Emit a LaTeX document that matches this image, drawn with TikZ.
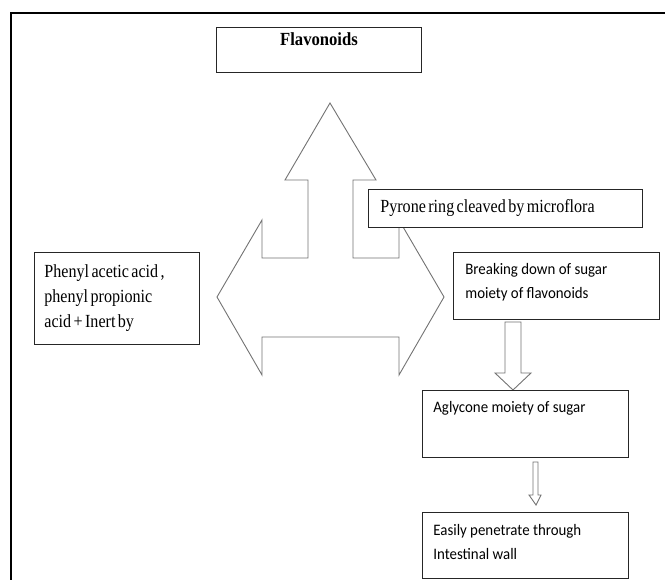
\documentclass[tikz,border=0pt]{standalone}
\usepackage{fontspec}
\newfontfamily\timesfont[FakeStretch=0.87,WordSpace=0.6]{Liberation Serif}
\newfontfamily\timesbold[FakeStretch=0.9]{Liberation Serif}
\newfontfamily\calfont[FakeStretch=0.93]{Carlito}

\tikzset{every picture/.style={line width=0.75pt}}
\tikzset{
  box/.style={draw=black!85, line width=1pt, fill=white, inner sep=0pt, anchor=north west},
  blockarrow/.style={draw=black!55, line width=0.9pt, fill=white},
  sertext/.style={inner sep=0pt, anchor=base west, align=left, font=\timesfont\fontsize{18.5}{25}\selectfont},
  caltext/.style={inner sep=0pt, anchor=base west, align=left, font=\calfont\fontsize{16}{24}\selectfont},
}

\begin{document}
\begin{tikzpicture}[x=1pt,y=1pt,yscale=-1,xscale=1]
	\useasboundingbox (0,0) rectangle (665,580);
	
	%Frame
	\draw [line width=2.3pt] (11,580) -- (11,13) -- (665,13) ;
	
	%Shape: Left-Right-Up Arrow
	\draw [blockarrow] (330,103) -- (376,180) -- (353,180) -- (353,258) -- (399,258) -- (399,220) -- (444,297) -- (399,375) -- (399,337) -- (262,337) -- (262,375) -- (217,297) -- (262,220) -- (262,258) -- (308,258) -- (308,180) -- (285,180) -- cycle ;
	
	%Shape: Down Arrow
	\draw [blockarrow] (505,322) -- (521,322) -- (521,373) -- (531,373) -- (513,390) -- (495,373) -- (505,373) -- cycle ;
	%Shape: Down Arrow
	\draw [blockarrow] (533,462) -- (538,462) -- (538,495) -- (541,495) -- (536,505) -- (529,495) -- (533,495) -- cycle ;
	
	%Boxes
	\node [box, minimum width=205, minimum height=45] (flav) at (216,27) {};
	\node [box, minimum width=274, minimum height=38] (pyr) at (368,189) {};
	\node [box, minimum width=165, minimum height=92] (phen) at (34,252) {};
	\node [box, minimum width=206, minimum height=67] (brk) at (453,252) {};
	\node [box, minimum width=206, minimum height=67] (agly) at (422,390) {};
	\node [box, minimum width=206, minimum height=66] (easy) at (422,512) {};
	
	% Text Node (base = last line)
	\node [sertext, anchor=base, font=\timesbold\bfseries\fontsize{18.5}{25}\selectfont] (flavtxt) at (319,46) {Flavonoids};
	% Text Node
	\node [sertext] (pyrtxt) at (380,213) {Pyrone ring cleaved by microflora};
	% Text Node
	\node [sertext] (phentxt) at (44,328) {Phenyl acetic acid ,\\ phenyl propionic\\ acid + Inert by};
	% Text Node
	\node [caltext] (brktxt) at (465,299) {Breaking down of sugar\\ moiety of flavonoids};
	% Text Node
	\node [caltext] (aglytxt) at (433,413) {Aglycone moiety of sugar};
	% Text Node
	\node [caltext] (easytxt) at (433,559) {Easily penetrate through\\ Intestinal wall};
	
\end{tikzpicture}
\end{document}
